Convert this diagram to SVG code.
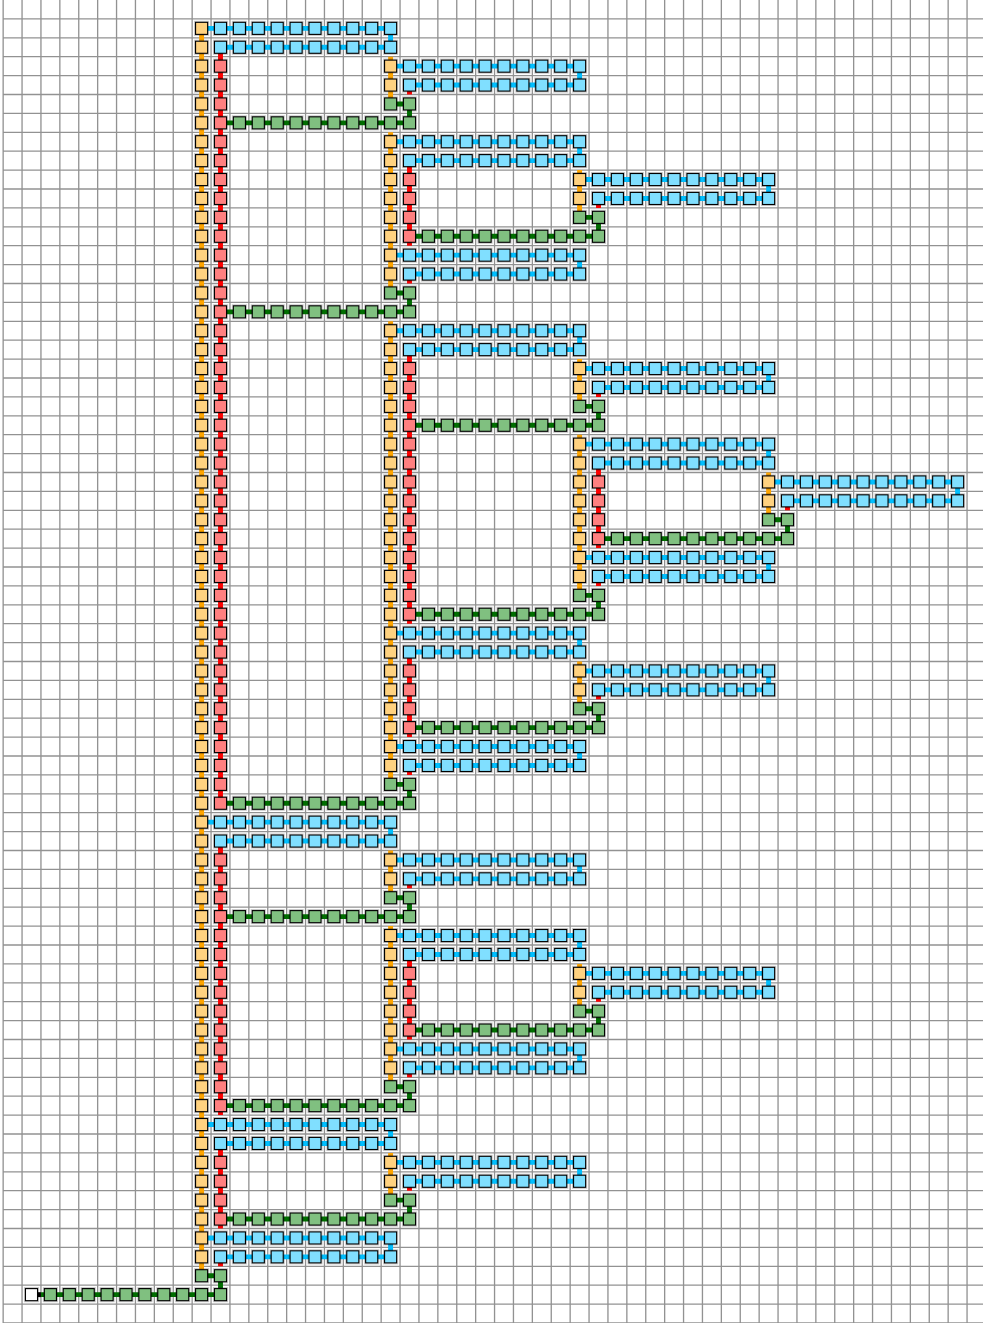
<svg xmlns="http://www.w3.org/2000/svg" width="983" height="1323" viewBox="0 0 983 1323">
<style>
.grid{fill:none;stroke:#929292;stroke-width:.07}
.e{fill:none;stroke-width:.26}
.h{fill:none;stroke:#000;stroke-opacity:.22;stroke-width:.05}
.n{stroke:#000;stroke-width:.06}
</style>
<defs>
<rect id="hl" class="h" x="-.375" y="-.375" width=".75" height=".75"/>
<g id="o"><use href="#hl"/><rect class="n" x="-.32" y="-.32" width=".64" height=".64" fill="#FFD280"/></g>
<g id="b"><use href="#hl"/><rect class="n" x="-.32" y="-.32" width=".64" height=".64" fill="#80DFFF"/></g>
<g id="r"><use href="#hl"/><rect class="n" x="-.32" y="-.32" width=".64" height=".64" fill="#FF8080"/></g>
<g id="g"><use href="#hl"/><rect class="n" x="-.32" y="-.32" width=".64" height=".64" fill="#80C080"/></g>
<g id="w"><use href="#hl"/><rect class="n" x="-.32" y="-.32" width=".64" height=".64" fill="#FFFFFF"/></g>
</defs>
<rect width="983" height="1323" fill="#fff"/>
<g transform="translate(12.6 9.45) scale(18.9)">
<path id="grid" class="grid" d="M-.5 -1V70M.5 -1V70M1.5 -1V70M2.5 -1V70M3.5 -1V70M4.5 -1V70M5.5 -1V70M6.5 -1V70M7.5 -1V70M8.5 -1V70M9.5 -1V70M10.5 -1V70M11.5 -1V70M12.5 -1V70M13.5 -1V70M14.5 -1V70M15.5 -1V70M16.5 -1V70M17.5 -1V70M18.5 -1V70M19.5 -1V70M20.5 -1V70M21.5 -1V70M22.5 -1V70M23.5 -1V70M24.5 -1V70M25.5 -1V70M26.5 -1V70M27.5 -1V70M28.5 -1V70M29.5 -1V70M30.5 -1V70M31.5 -1V70M32.5 -1V70M33.5 -1V70M34.5 -1V70M35.5 -1V70M36.5 -1V70M37.5 -1V70M38.5 -1V70M39.5 -1V70M40.5 -1V70M41.5 -1V70M42.5 -1V70M43.5 -1V70M44.5 -1V70M45.5 -1V70M46.5 -1V70M47.5 -1V70M48.5 -1V70M49.5 -1V70M50.5 -1V70M-.5 .5H52M-.5 1.5H52M-.5 2.5H52M-.5 3.5H52M-.5 4.5H52M-.5 5.5H52M-.5 6.5H52M-.5 7.5H52M-.5 8.5H52M-.5 9.5H52M-.5 10.5H52M-.5 11.5H52M-.5 12.5H52M-.5 13.5H52M-.5 14.5H52M-.5 15.5H52M-.5 16.5H52M-.5 17.5H52M-.5 18.5H52M-.5 19.5H52M-.5 20.5H52M-.5 21.5H52M-.5 22.5H52M-.5 23.5H52M-.5 24.5H52M-.5 25.5H52M-.5 26.5H52M-.5 27.5H52M-.5 28.5H52M-.5 29.5H52M-.5 30.5H52M-.5 31.5H52M-.5 32.5H52M-.5 33.5H52M-.5 34.5H52M-.5 35.5H52M-.5 36.5H52M-.5 37.5H52M-.5 38.5H52M-.5 39.5H52M-.5 40.5H52M-.5 41.5H52M-.5 42.5H52M-.5 43.5H52M-.5 44.5H52M-.5 45.5H52M-.5 46.5H52M-.5 47.5H52M-.5 48.5H52M-.5 49.5H52M-.5 50.5H52M-.5 51.5H52M-.5 52.5H52M-.5 53.5H52M-.5 54.5H52M-.5 55.5H52M-.5 56.5H52M-.5 57.5H52M-.5 58.5H52M-.5 59.5H52M-.5 60.5H52M-.5 61.5H52M-.5 62.5H52M-.5 63.5H52M-.5 64.5H52M-.5 65.5H52M-.5 66.5H52M-.5 67.5H52M-.5 68.5H52M-.5 69.5H52"/>
<g id="connectors">
<path class="e" stroke="#00BFFF" d="M10 1H20V2H11M10 43H20V44H11M10 59H20V60H11M10 65H20V66H11M20 3H30V4H21M20 7H30V8H21M20 13H30V14H21M20 17H30V18H21M20 33H30V34H21M20 39H30V40H21M20 45H30V46H21M20 49H30V50H21M20 55H30V56H21M20 61H30V62H21M30 9H40V10H31M30 19H40V20H31M30 23H40V24H31M30 29H40V30H31M30 35H40V36H31M30 51H40V52H31M40 25H50V26H41"/>
<path class="e" stroke="#006E00" d="M11 6H21V5H20M11 16H21V15H20M11 42H21V41H20M11 48H21V47H20M11 58H21V57H20M11 64H21V63H20M21 12H31V11H30M21 22H31V21H30M21 32H31V31H30M21 38H31V37H30M21 54H31V53H30M31 28H41V27H40M1.5 68H11V67H10"/>
<path class="e" stroke="#000" d="M1 68H1.5"/>
<path class="e" stroke="#FFA500" d="M10 1V67M20 2.5V5M20 6.5V15M20 16.5V41M20 44.5V47M20 48.5V57M20 60.5V63M30 8.5V11M30 18.5V21M30 22.5V31M30 34.5V37M30 50.5V53M40 24.5V27"/>
<path class="e" stroke="#FF0000" d="M11 2V42M11 44V58.5M11 60V64.5M11 66V66.5M21 4V4.5M21 8V12.5M21 14V14.5M21 18V32.5M21 34V38.5M21 40V40.5M21 46V46.5M21 50V54.5M21 56V56.5M21 62V62.5M31 10V10.5M31 20V20.5M31 24V28.5M31 30V30.5M31 36V36.5M31 52V52.5M41 26V26.5"/>
</g>
<g id="nodes">
<g id="n10-1"><use href="#o" x="10" y="1"/></g><g id="n11-1"><use href="#b" x="11" y="1"/></g><g id="n12-1"><use href="#b" x="12" y="1"/></g><g id="n13-1"><use href="#b" x="13" y="1"/></g><g id="n14-1"><use href="#b" x="14" y="1"/></g><g id="n15-1"><use href="#b" x="15" y="1"/></g><g id="n16-1"><use href="#b" x="16" y="1"/></g><g id="n17-1"><use href="#b" x="17" y="1"/></g><g id="n18-1"><use href="#b" x="18" y="1"/></g><g id="n19-1"><use href="#b" x="19" y="1"/></g><g id="n20-1"><use href="#b" x="20" y="1"/></g>
<g id="n10-2"><use href="#o" x="10" y="2"/></g><g id="n11-2"><use href="#b" x="11" y="2"/></g><g id="n12-2"><use href="#b" x="12" y="2"/></g><g id="n13-2"><use href="#b" x="13" y="2"/></g><g id="n14-2"><use href="#b" x="14" y="2"/></g><g id="n15-2"><use href="#b" x="15" y="2"/></g><g id="n16-2"><use href="#b" x="16" y="2"/></g><g id="n17-2"><use href="#b" x="17" y="2"/></g><g id="n18-2"><use href="#b" x="18" y="2"/></g><g id="n19-2"><use href="#b" x="19" y="2"/></g><g id="n20-2"><use href="#b" x="20" y="2"/></g>
<g id="n10-3"><use href="#o" x="10" y="3"/></g><g id="n11-3"><use href="#r" x="11" y="3"/></g><g id="n20-3"><use href="#o" x="20" y="3"/></g><g id="n21-3"><use href="#b" x="21" y="3"/></g><g id="n22-3"><use href="#b" x="22" y="3"/></g><g id="n23-3"><use href="#b" x="23" y="3"/></g><g id="n24-3"><use href="#b" x="24" y="3"/></g><g id="n25-3"><use href="#b" x="25" y="3"/></g><g id="n26-3"><use href="#b" x="26" y="3"/></g><g id="n27-3"><use href="#b" x="27" y="3"/></g><g id="n28-3"><use href="#b" x="28" y="3"/></g><g id="n29-3"><use href="#b" x="29" y="3"/></g><g id="n30-3"><use href="#b" x="30" y="3"/></g>
<g id="n10-4"><use href="#o" x="10" y="4"/></g><g id="n11-4"><use href="#r" x="11" y="4"/></g><g id="n20-4"><use href="#o" x="20" y="4"/></g><g id="n21-4"><use href="#b" x="21" y="4"/></g><g id="n22-4"><use href="#b" x="22" y="4"/></g><g id="n23-4"><use href="#b" x="23" y="4"/></g><g id="n24-4"><use href="#b" x="24" y="4"/></g><g id="n25-4"><use href="#b" x="25" y="4"/></g><g id="n26-4"><use href="#b" x="26" y="4"/></g><g id="n27-4"><use href="#b" x="27" y="4"/></g><g id="n28-4"><use href="#b" x="28" y="4"/></g><g id="n29-4"><use href="#b" x="29" y="4"/></g><g id="n30-4"><use href="#b" x="30" y="4"/></g>
<g id="n10-5"><use href="#o" x="10" y="5"/></g><g id="n11-5"><use href="#r" x="11" y="5"/></g><g id="n20-5"><use href="#g" x="20" y="5"/></g><g id="n21-5"><use href="#g" x="21" y="5"/></g>
<g id="n10-6"><use href="#o" x="10" y="6"/></g><g id="n11-6"><use href="#r" x="11" y="6"/></g><g id="n12-6"><use href="#g" x="12" y="6"/></g><g id="n13-6"><use href="#g" x="13" y="6"/></g><g id="n14-6"><use href="#g" x="14" y="6"/></g><g id="n15-6"><use href="#g" x="15" y="6"/></g><g id="n16-6"><use href="#g" x="16" y="6"/></g><g id="n17-6"><use href="#g" x="17" y="6"/></g><g id="n18-6"><use href="#g" x="18" y="6"/></g><g id="n19-6"><use href="#g" x="19" y="6"/></g><g id="n20-6"><use href="#g" x="20" y="6"/></g><g id="n21-6"><use href="#g" x="21" y="6"/></g>
<g id="n10-7"><use href="#o" x="10" y="7"/></g><g id="n11-7"><use href="#r" x="11" y="7"/></g><g id="n20-7"><use href="#o" x="20" y="7"/></g><g id="n21-7"><use href="#b" x="21" y="7"/></g><g id="n22-7"><use href="#b" x="22" y="7"/></g><g id="n23-7"><use href="#b" x="23" y="7"/></g><g id="n24-7"><use href="#b" x="24" y="7"/></g><g id="n25-7"><use href="#b" x="25" y="7"/></g><g id="n26-7"><use href="#b" x="26" y="7"/></g><g id="n27-7"><use href="#b" x="27" y="7"/></g><g id="n28-7"><use href="#b" x="28" y="7"/></g><g id="n29-7"><use href="#b" x="29" y="7"/></g><g id="n30-7"><use href="#b" x="30" y="7"/></g>
<g id="n10-8"><use href="#o" x="10" y="8"/></g><g id="n11-8"><use href="#r" x="11" y="8"/></g><g id="n20-8"><use href="#o" x="20" y="8"/></g><g id="n21-8"><use href="#b" x="21" y="8"/></g><g id="n22-8"><use href="#b" x="22" y="8"/></g><g id="n23-8"><use href="#b" x="23" y="8"/></g><g id="n24-8"><use href="#b" x="24" y="8"/></g><g id="n25-8"><use href="#b" x="25" y="8"/></g><g id="n26-8"><use href="#b" x="26" y="8"/></g><g id="n27-8"><use href="#b" x="27" y="8"/></g><g id="n28-8"><use href="#b" x="28" y="8"/></g><g id="n29-8"><use href="#b" x="29" y="8"/></g><g id="n30-8"><use href="#b" x="30" y="8"/></g>
<g id="n10-9"><use href="#o" x="10" y="9"/></g><g id="n11-9"><use href="#r" x="11" y="9"/></g><g id="n20-9"><use href="#o" x="20" y="9"/></g><g id="n21-9"><use href="#r" x="21" y="9"/></g><g id="n30-9"><use href="#o" x="30" y="9"/></g><g id="n31-9"><use href="#b" x="31" y="9"/></g><g id="n32-9"><use href="#b" x="32" y="9"/></g><g id="n33-9"><use href="#b" x="33" y="9"/></g><g id="n34-9"><use href="#b" x="34" y="9"/></g><g id="n35-9"><use href="#b" x="35" y="9"/></g><g id="n36-9"><use href="#b" x="36" y="9"/></g><g id="n37-9"><use href="#b" x="37" y="9"/></g><g id="n38-9"><use href="#b" x="38" y="9"/></g><g id="n39-9"><use href="#b" x="39" y="9"/></g><g id="n40-9"><use href="#b" x="40" y="9"/></g>
<g id="n10-10"><use href="#o" x="10" y="10"/></g><g id="n11-10"><use href="#r" x="11" y="10"/></g><g id="n20-10"><use href="#o" x="20" y="10"/></g><g id="n21-10"><use href="#r" x="21" y="10"/></g><g id="n30-10"><use href="#o" x="30" y="10"/></g><g id="n31-10"><use href="#b" x="31" y="10"/></g><g id="n32-10"><use href="#b" x="32" y="10"/></g><g id="n33-10"><use href="#b" x="33" y="10"/></g><g id="n34-10"><use href="#b" x="34" y="10"/></g><g id="n35-10"><use href="#b" x="35" y="10"/></g><g id="n36-10"><use href="#b" x="36" y="10"/></g><g id="n37-10"><use href="#b" x="37" y="10"/></g><g id="n38-10"><use href="#b" x="38" y="10"/></g><g id="n39-10"><use href="#b" x="39" y="10"/></g><g id="n40-10"><use href="#b" x="40" y="10"/></g>
<g id="n10-11"><use href="#o" x="10" y="11"/></g><g id="n11-11"><use href="#r" x="11" y="11"/></g><g id="n20-11"><use href="#o" x="20" y="11"/></g><g id="n21-11"><use href="#r" x="21" y="11"/></g><g id="n30-11"><use href="#g" x="30" y="11"/></g><g id="n31-11"><use href="#g" x="31" y="11"/></g>
<g id="n10-12"><use href="#o" x="10" y="12"/></g><g id="n11-12"><use href="#r" x="11" y="12"/></g><g id="n20-12"><use href="#o" x="20" y="12"/></g><g id="n21-12"><use href="#r" x="21" y="12"/></g><g id="n22-12"><use href="#g" x="22" y="12"/></g><g id="n23-12"><use href="#g" x="23" y="12"/></g><g id="n24-12"><use href="#g" x="24" y="12"/></g><g id="n25-12"><use href="#g" x="25" y="12"/></g><g id="n26-12"><use href="#g" x="26" y="12"/></g><g id="n27-12"><use href="#g" x="27" y="12"/></g><g id="n28-12"><use href="#g" x="28" y="12"/></g><g id="n29-12"><use href="#g" x="29" y="12"/></g><g id="n30-12"><use href="#g" x="30" y="12"/></g><g id="n31-12"><use href="#g" x="31" y="12"/></g>
<g id="n10-13"><use href="#o" x="10" y="13"/></g><g id="n11-13"><use href="#r" x="11" y="13"/></g><g id="n20-13"><use href="#o" x="20" y="13"/></g><g id="n21-13"><use href="#b" x="21" y="13"/></g><g id="n22-13"><use href="#b" x="22" y="13"/></g><g id="n23-13"><use href="#b" x="23" y="13"/></g><g id="n24-13"><use href="#b" x="24" y="13"/></g><g id="n25-13"><use href="#b" x="25" y="13"/></g><g id="n26-13"><use href="#b" x="26" y="13"/></g><g id="n27-13"><use href="#b" x="27" y="13"/></g><g id="n28-13"><use href="#b" x="28" y="13"/></g><g id="n29-13"><use href="#b" x="29" y="13"/></g><g id="n30-13"><use href="#b" x="30" y="13"/></g>
<g id="n10-14"><use href="#o" x="10" y="14"/></g><g id="n11-14"><use href="#r" x="11" y="14"/></g><g id="n20-14"><use href="#o" x="20" y="14"/></g><g id="n21-14"><use href="#b" x="21" y="14"/></g><g id="n22-14"><use href="#b" x="22" y="14"/></g><g id="n23-14"><use href="#b" x="23" y="14"/></g><g id="n24-14"><use href="#b" x="24" y="14"/></g><g id="n25-14"><use href="#b" x="25" y="14"/></g><g id="n26-14"><use href="#b" x="26" y="14"/></g><g id="n27-14"><use href="#b" x="27" y="14"/></g><g id="n28-14"><use href="#b" x="28" y="14"/></g><g id="n29-14"><use href="#b" x="29" y="14"/></g><g id="n30-14"><use href="#b" x="30" y="14"/></g>
<g id="n10-15"><use href="#o" x="10" y="15"/></g><g id="n11-15"><use href="#r" x="11" y="15"/></g><g id="n20-15"><use href="#g" x="20" y="15"/></g><g id="n21-15"><use href="#g" x="21" y="15"/></g>
<g id="n10-16"><use href="#o" x="10" y="16"/></g><g id="n11-16"><use href="#r" x="11" y="16"/></g><g id="n12-16"><use href="#g" x="12" y="16"/></g><g id="n13-16"><use href="#g" x="13" y="16"/></g><g id="n14-16"><use href="#g" x="14" y="16"/></g><g id="n15-16"><use href="#g" x="15" y="16"/></g><g id="n16-16"><use href="#g" x="16" y="16"/></g><g id="n17-16"><use href="#g" x="17" y="16"/></g><g id="n18-16"><use href="#g" x="18" y="16"/></g><g id="n19-16"><use href="#g" x="19" y="16"/></g><g id="n20-16"><use href="#g" x="20" y="16"/></g><g id="n21-16"><use href="#g" x="21" y="16"/></g>
<g id="n10-17"><use href="#o" x="10" y="17"/></g><g id="n11-17"><use href="#r" x="11" y="17"/></g><g id="n20-17"><use href="#o" x="20" y="17"/></g><g id="n21-17"><use href="#b" x="21" y="17"/></g><g id="n22-17"><use href="#b" x="22" y="17"/></g><g id="n23-17"><use href="#b" x="23" y="17"/></g><g id="n24-17"><use href="#b" x="24" y="17"/></g><g id="n25-17"><use href="#b" x="25" y="17"/></g><g id="n26-17"><use href="#b" x="26" y="17"/></g><g id="n27-17"><use href="#b" x="27" y="17"/></g><g id="n28-17"><use href="#b" x="28" y="17"/></g><g id="n29-17"><use href="#b" x="29" y="17"/></g><g id="n30-17"><use href="#b" x="30" y="17"/></g>
<g id="n10-18"><use href="#o" x="10" y="18"/></g><g id="n11-18"><use href="#r" x="11" y="18"/></g><g id="n20-18"><use href="#o" x="20" y="18"/></g><g id="n21-18"><use href="#b" x="21" y="18"/></g><g id="n22-18"><use href="#b" x="22" y="18"/></g><g id="n23-18"><use href="#b" x="23" y="18"/></g><g id="n24-18"><use href="#b" x="24" y="18"/></g><g id="n25-18"><use href="#b" x="25" y="18"/></g><g id="n26-18"><use href="#b" x="26" y="18"/></g><g id="n27-18"><use href="#b" x="27" y="18"/></g><g id="n28-18"><use href="#b" x="28" y="18"/></g><g id="n29-18"><use href="#b" x="29" y="18"/></g><g id="n30-18"><use href="#b" x="30" y="18"/></g>
<g id="n10-19"><use href="#o" x="10" y="19"/></g><g id="n11-19"><use href="#r" x="11" y="19"/></g><g id="n20-19"><use href="#o" x="20" y="19"/></g><g id="n21-19"><use href="#r" x="21" y="19"/></g><g id="n30-19"><use href="#o" x="30" y="19"/></g><g id="n31-19"><use href="#b" x="31" y="19"/></g><g id="n32-19"><use href="#b" x="32" y="19"/></g><g id="n33-19"><use href="#b" x="33" y="19"/></g><g id="n34-19"><use href="#b" x="34" y="19"/></g><g id="n35-19"><use href="#b" x="35" y="19"/></g><g id="n36-19"><use href="#b" x="36" y="19"/></g><g id="n37-19"><use href="#b" x="37" y="19"/></g><g id="n38-19"><use href="#b" x="38" y="19"/></g><g id="n39-19"><use href="#b" x="39" y="19"/></g><g id="n40-19"><use href="#b" x="40" y="19"/></g>
<g id="n10-20"><use href="#o" x="10" y="20"/></g><g id="n11-20"><use href="#r" x="11" y="20"/></g><g id="n20-20"><use href="#o" x="20" y="20"/></g><g id="n21-20"><use href="#r" x="21" y="20"/></g><g id="n30-20"><use href="#o" x="30" y="20"/></g><g id="n31-20"><use href="#b" x="31" y="20"/></g><g id="n32-20"><use href="#b" x="32" y="20"/></g><g id="n33-20"><use href="#b" x="33" y="20"/></g><g id="n34-20"><use href="#b" x="34" y="20"/></g><g id="n35-20"><use href="#b" x="35" y="20"/></g><g id="n36-20"><use href="#b" x="36" y="20"/></g><g id="n37-20"><use href="#b" x="37" y="20"/></g><g id="n38-20"><use href="#b" x="38" y="20"/></g><g id="n39-20"><use href="#b" x="39" y="20"/></g><g id="n40-20"><use href="#b" x="40" y="20"/></g>
<g id="n10-21"><use href="#o" x="10" y="21"/></g><g id="n11-21"><use href="#r" x="11" y="21"/></g><g id="n20-21"><use href="#o" x="20" y="21"/></g><g id="n21-21"><use href="#r" x="21" y="21"/></g><g id="n30-21"><use href="#g" x="30" y="21"/></g><g id="n31-21"><use href="#g" x="31" y="21"/></g>
<g id="n10-22"><use href="#o" x="10" y="22"/></g><g id="n11-22"><use href="#r" x="11" y="22"/></g><g id="n20-22"><use href="#o" x="20" y="22"/></g><g id="n21-22"><use href="#r" x="21" y="22"/></g><g id="n22-22"><use href="#g" x="22" y="22"/></g><g id="n23-22"><use href="#g" x="23" y="22"/></g><g id="n24-22"><use href="#g" x="24" y="22"/></g><g id="n25-22"><use href="#g" x="25" y="22"/></g><g id="n26-22"><use href="#g" x="26" y="22"/></g><g id="n27-22"><use href="#g" x="27" y="22"/></g><g id="n28-22"><use href="#g" x="28" y="22"/></g><g id="n29-22"><use href="#g" x="29" y="22"/></g><g id="n30-22"><use href="#g" x="30" y="22"/></g><g id="n31-22"><use href="#g" x="31" y="22"/></g>
<g id="n10-23"><use href="#o" x="10" y="23"/></g><g id="n11-23"><use href="#r" x="11" y="23"/></g><g id="n20-23"><use href="#o" x="20" y="23"/></g><g id="n21-23"><use href="#r" x="21" y="23"/></g><g id="n30-23"><use href="#o" x="30" y="23"/></g><g id="n31-23"><use href="#b" x="31" y="23"/></g><g id="n32-23"><use href="#b" x="32" y="23"/></g><g id="n33-23"><use href="#b" x="33" y="23"/></g><g id="n34-23"><use href="#b" x="34" y="23"/></g><g id="n35-23"><use href="#b" x="35" y="23"/></g><g id="n36-23"><use href="#b" x="36" y="23"/></g><g id="n37-23"><use href="#b" x="37" y="23"/></g><g id="n38-23"><use href="#b" x="38" y="23"/></g><g id="n39-23"><use href="#b" x="39" y="23"/></g><g id="n40-23"><use href="#b" x="40" y="23"/></g>
<g id="n10-24"><use href="#o" x="10" y="24"/></g><g id="n11-24"><use href="#r" x="11" y="24"/></g><g id="n20-24"><use href="#o" x="20" y="24"/></g><g id="n21-24"><use href="#r" x="21" y="24"/></g><g id="n30-24"><use href="#o" x="30" y="24"/></g><g id="n31-24"><use href="#b" x="31" y="24"/></g><g id="n32-24"><use href="#b" x="32" y="24"/></g><g id="n33-24"><use href="#b" x="33" y="24"/></g><g id="n34-24"><use href="#b" x="34" y="24"/></g><g id="n35-24"><use href="#b" x="35" y="24"/></g><g id="n36-24"><use href="#b" x="36" y="24"/></g><g id="n37-24"><use href="#b" x="37" y="24"/></g><g id="n38-24"><use href="#b" x="38" y="24"/></g><g id="n39-24"><use href="#b" x="39" y="24"/></g><g id="n40-24"><use href="#b" x="40" y="24"/></g>
<g id="n10-25"><use href="#o" x="10" y="25"/></g><g id="n11-25"><use href="#r" x="11" y="25"/></g><g id="n20-25"><use href="#o" x="20" y="25"/></g><g id="n21-25"><use href="#r" x="21" y="25"/></g><g id="n30-25"><use href="#o" x="30" y="25"/></g><g id="n31-25"><use href="#r" x="31" y="25"/></g><g id="n40-25"><use href="#o" x="40" y="25"/></g><g id="n41-25"><use href="#b" x="41" y="25"/></g><g id="n42-25"><use href="#b" x="42" y="25"/></g><g id="n43-25"><use href="#b" x="43" y="25"/></g><g id="n44-25"><use href="#b" x="44" y="25"/></g><g id="n45-25"><use href="#b" x="45" y="25"/></g><g id="n46-25"><use href="#b" x="46" y="25"/></g><g id="n47-25"><use href="#b" x="47" y="25"/></g><g id="n48-25"><use href="#b" x="48" y="25"/></g><g id="n49-25"><use href="#b" x="49" y="25"/></g><g id="n50-25"><use href="#b" x="50" y="25"/></g>
<g id="n10-26"><use href="#o" x="10" y="26"/></g><g id="n11-26"><use href="#r" x="11" y="26"/></g><g id="n20-26"><use href="#o" x="20" y="26"/></g><g id="n21-26"><use href="#r" x="21" y="26"/></g><g id="n30-26"><use href="#o" x="30" y="26"/></g><g id="n31-26"><use href="#r" x="31" y="26"/></g><g id="n40-26"><use href="#o" x="40" y="26"/></g><g id="n41-26"><use href="#b" x="41" y="26"/></g><g id="n42-26"><use href="#b" x="42" y="26"/></g><g id="n43-26"><use href="#b" x="43" y="26"/></g><g id="n44-26"><use href="#b" x="44" y="26"/></g><g id="n45-26"><use href="#b" x="45" y="26"/></g><g id="n46-26"><use href="#b" x="46" y="26"/></g><g id="n47-26"><use href="#b" x="47" y="26"/></g><g id="n48-26"><use href="#b" x="48" y="26"/></g><g id="n49-26"><use href="#b" x="49" y="26"/></g><g id="n50-26"><use href="#b" x="50" y="26"/></g>
<g id="n10-27"><use href="#o" x="10" y="27"/></g><g id="n11-27"><use href="#r" x="11" y="27"/></g><g id="n20-27"><use href="#o" x="20" y="27"/></g><g id="n21-27"><use href="#r" x="21" y="27"/></g><g id="n30-27"><use href="#o" x="30" y="27"/></g><g id="n31-27"><use href="#r" x="31" y="27"/></g><g id="n40-27"><use href="#g" x="40" y="27"/></g><g id="n41-27"><use href="#g" x="41" y="27"/></g>
<g id="n10-28"><use href="#o" x="10" y="28"/></g><g id="n11-28"><use href="#r" x="11" y="28"/></g><g id="n20-28"><use href="#o" x="20" y="28"/></g><g id="n21-28"><use href="#r" x="21" y="28"/></g><g id="n30-28"><use href="#o" x="30" y="28"/></g><g id="n31-28"><use href="#r" x="31" y="28"/></g><g id="n32-28"><use href="#g" x="32" y="28"/></g><g id="n33-28"><use href="#g" x="33" y="28"/></g><g id="n34-28"><use href="#g" x="34" y="28"/></g><g id="n35-28"><use href="#g" x="35" y="28"/></g><g id="n36-28"><use href="#g" x="36" y="28"/></g><g id="n37-28"><use href="#g" x="37" y="28"/></g><g id="n38-28"><use href="#g" x="38" y="28"/></g><g id="n39-28"><use href="#g" x="39" y="28"/></g><g id="n40-28"><use href="#g" x="40" y="28"/></g><g id="n41-28"><use href="#g" x="41" y="28"/></g>
<g id="n10-29"><use href="#o" x="10" y="29"/></g><g id="n11-29"><use href="#r" x="11" y="29"/></g><g id="n20-29"><use href="#o" x="20" y="29"/></g><g id="n21-29"><use href="#r" x="21" y="29"/></g><g id="n30-29"><use href="#o" x="30" y="29"/></g><g id="n31-29"><use href="#b" x="31" y="29"/></g><g id="n32-29"><use href="#b" x="32" y="29"/></g><g id="n33-29"><use href="#b" x="33" y="29"/></g><g id="n34-29"><use href="#b" x="34" y="29"/></g><g id="n35-29"><use href="#b" x="35" y="29"/></g><g id="n36-29"><use href="#b" x="36" y="29"/></g><g id="n37-29"><use href="#b" x="37" y="29"/></g><g id="n38-29"><use href="#b" x="38" y="29"/></g><g id="n39-29"><use href="#b" x="39" y="29"/></g><g id="n40-29"><use href="#b" x="40" y="29"/></g>
<g id="n10-30"><use href="#o" x="10" y="30"/></g><g id="n11-30"><use href="#r" x="11" y="30"/></g><g id="n20-30"><use href="#o" x="20" y="30"/></g><g id="n21-30"><use href="#r" x="21" y="30"/></g><g id="n30-30"><use href="#o" x="30" y="30"/></g><g id="n31-30"><use href="#b" x="31" y="30"/></g><g id="n32-30"><use href="#b" x="32" y="30"/></g><g id="n33-30"><use href="#b" x="33" y="30"/></g><g id="n34-30"><use href="#b" x="34" y="30"/></g><g id="n35-30"><use href="#b" x="35" y="30"/></g><g id="n36-30"><use href="#b" x="36" y="30"/></g><g id="n37-30"><use href="#b" x="37" y="30"/></g><g id="n38-30"><use href="#b" x="38" y="30"/></g><g id="n39-30"><use href="#b" x="39" y="30"/></g><g id="n40-30"><use href="#b" x="40" y="30"/></g>
<g id="n10-31"><use href="#o" x="10" y="31"/></g><g id="n11-31"><use href="#r" x="11" y="31"/></g><g id="n20-31"><use href="#o" x="20" y="31"/></g><g id="n21-31"><use href="#r" x="21" y="31"/></g><g id="n30-31"><use href="#g" x="30" y="31"/></g><g id="n31-31"><use href="#g" x="31" y="31"/></g>
<g id="n10-32"><use href="#o" x="10" y="32"/></g><g id="n11-32"><use href="#r" x="11" y="32"/></g><g id="n20-32"><use href="#o" x="20" y="32"/></g><g id="n21-32"><use href="#r" x="21" y="32"/></g><g id="n22-32"><use href="#g" x="22" y="32"/></g><g id="n23-32"><use href="#g" x="23" y="32"/></g><g id="n24-32"><use href="#g" x="24" y="32"/></g><g id="n25-32"><use href="#g" x="25" y="32"/></g><g id="n26-32"><use href="#g" x="26" y="32"/></g><g id="n27-32"><use href="#g" x="27" y="32"/></g><g id="n28-32"><use href="#g" x="28" y="32"/></g><g id="n29-32"><use href="#g" x="29" y="32"/></g><g id="n30-32"><use href="#g" x="30" y="32"/></g><g id="n31-32"><use href="#g" x="31" y="32"/></g>
<g id="n10-33"><use href="#o" x="10" y="33"/></g><g id="n11-33"><use href="#r" x="11" y="33"/></g><g id="n20-33"><use href="#o" x="20" y="33"/></g><g id="n21-33"><use href="#b" x="21" y="33"/></g><g id="n22-33"><use href="#b" x="22" y="33"/></g><g id="n23-33"><use href="#b" x="23" y="33"/></g><g id="n24-33"><use href="#b" x="24" y="33"/></g><g id="n25-33"><use href="#b" x="25" y="33"/></g><g id="n26-33"><use href="#b" x="26" y="33"/></g><g id="n27-33"><use href="#b" x="27" y="33"/></g><g id="n28-33"><use href="#b" x="28" y="33"/></g><g id="n29-33"><use href="#b" x="29" y="33"/></g><g id="n30-33"><use href="#b" x="30" y="33"/></g>
<g id="n10-34"><use href="#o" x="10" y="34"/></g><g id="n11-34"><use href="#r" x="11" y="34"/></g><g id="n20-34"><use href="#o" x="20" y="34"/></g><g id="n21-34"><use href="#b" x="21" y="34"/></g><g id="n22-34"><use href="#b" x="22" y="34"/></g><g id="n23-34"><use href="#b" x="23" y="34"/></g><g id="n24-34"><use href="#b" x="24" y="34"/></g><g id="n25-34"><use href="#b" x="25" y="34"/></g><g id="n26-34"><use href="#b" x="26" y="34"/></g><g id="n27-34"><use href="#b" x="27" y="34"/></g><g id="n28-34"><use href="#b" x="28" y="34"/></g><g id="n29-34"><use href="#b" x="29" y="34"/></g><g id="n30-34"><use href="#b" x="30" y="34"/></g>
<g id="n10-35"><use href="#o" x="10" y="35"/></g><g id="n11-35"><use href="#r" x="11" y="35"/></g><g id="n20-35"><use href="#o" x="20" y="35"/></g><g id="n21-35"><use href="#r" x="21" y="35"/></g><g id="n30-35"><use href="#o" x="30" y="35"/></g><g id="n31-35"><use href="#b" x="31" y="35"/></g><g id="n32-35"><use href="#b" x="32" y="35"/></g><g id="n33-35"><use href="#b" x="33" y="35"/></g><g id="n34-35"><use href="#b" x="34" y="35"/></g><g id="n35-35"><use href="#b" x="35" y="35"/></g><g id="n36-35"><use href="#b" x="36" y="35"/></g><g id="n37-35"><use href="#b" x="37" y="35"/></g><g id="n38-35"><use href="#b" x="38" y="35"/></g><g id="n39-35"><use href="#b" x="39" y="35"/></g><g id="n40-35"><use href="#b" x="40" y="35"/></g>
<g id="n10-36"><use href="#o" x="10" y="36"/></g><g id="n11-36"><use href="#r" x="11" y="36"/></g><g id="n20-36"><use href="#o" x="20" y="36"/></g><g id="n21-36"><use href="#r" x="21" y="36"/></g><g id="n30-36"><use href="#o" x="30" y="36"/></g><g id="n31-36"><use href="#b" x="31" y="36"/></g><g id="n32-36"><use href="#b" x="32" y="36"/></g><g id="n33-36"><use href="#b" x="33" y="36"/></g><g id="n34-36"><use href="#b" x="34" y="36"/></g><g id="n35-36"><use href="#b" x="35" y="36"/></g><g id="n36-36"><use href="#b" x="36" y="36"/></g><g id="n37-36"><use href="#b" x="37" y="36"/></g><g id="n38-36"><use href="#b" x="38" y="36"/></g><g id="n39-36"><use href="#b" x="39" y="36"/></g><g id="n40-36"><use href="#b" x="40" y="36"/></g>
<g id="n10-37"><use href="#o" x="10" y="37"/></g><g id="n11-37"><use href="#r" x="11" y="37"/></g><g id="n20-37"><use href="#o" x="20" y="37"/></g><g id="n21-37"><use href="#r" x="21" y="37"/></g><g id="n30-37"><use href="#g" x="30" y="37"/></g><g id="n31-37"><use href="#g" x="31" y="37"/></g>
<g id="n10-38"><use href="#o" x="10" y="38"/></g><g id="n11-38"><use href="#r" x="11" y="38"/></g><g id="n20-38"><use href="#o" x="20" y="38"/></g><g id="n21-38"><use href="#r" x="21" y="38"/></g><g id="n22-38"><use href="#g" x="22" y="38"/></g><g id="n23-38"><use href="#g" x="23" y="38"/></g><g id="n24-38"><use href="#g" x="24" y="38"/></g><g id="n25-38"><use href="#g" x="25" y="38"/></g><g id="n26-38"><use href="#g" x="26" y="38"/></g><g id="n27-38"><use href="#g" x="27" y="38"/></g><g id="n28-38"><use href="#g" x="28" y="38"/></g><g id="n29-38"><use href="#g" x="29" y="38"/></g><g id="n30-38"><use href="#g" x="30" y="38"/></g><g id="n31-38"><use href="#g" x="31" y="38"/></g>
<g id="n10-39"><use href="#o" x="10" y="39"/></g><g id="n11-39"><use href="#r" x="11" y="39"/></g><g id="n20-39"><use href="#o" x="20" y="39"/></g><g id="n21-39"><use href="#b" x="21" y="39"/></g><g id="n22-39"><use href="#b" x="22" y="39"/></g><g id="n23-39"><use href="#b" x="23" y="39"/></g><g id="n24-39"><use href="#b" x="24" y="39"/></g><g id="n25-39"><use href="#b" x="25" y="39"/></g><g id="n26-39"><use href="#b" x="26" y="39"/></g><g id="n27-39"><use href="#b" x="27" y="39"/></g><g id="n28-39"><use href="#b" x="28" y="39"/></g><g id="n29-39"><use href="#b" x="29" y="39"/></g><g id="n30-39"><use href="#b" x="30" y="39"/></g>
<g id="n10-40"><use href="#o" x="10" y="40"/></g><g id="n11-40"><use href="#r" x="11" y="40"/></g><g id="n20-40"><use href="#o" x="20" y="40"/></g><g id="n21-40"><use href="#b" x="21" y="40"/></g><g id="n22-40"><use href="#b" x="22" y="40"/></g><g id="n23-40"><use href="#b" x="23" y="40"/></g><g id="n24-40"><use href="#b" x="24" y="40"/></g><g id="n25-40"><use href="#b" x="25" y="40"/></g><g id="n26-40"><use href="#b" x="26" y="40"/></g><g id="n27-40"><use href="#b" x="27" y="40"/></g><g id="n28-40"><use href="#b" x="28" y="40"/></g><g id="n29-40"><use href="#b" x="29" y="40"/></g><g id="n30-40"><use href="#b" x="30" y="40"/></g>
<g id="n10-41"><use href="#o" x="10" y="41"/></g><g id="n11-41"><use href="#r" x="11" y="41"/></g><g id="n20-41"><use href="#g" x="20" y="41"/></g><g id="n21-41"><use href="#g" x="21" y="41"/></g>
<g id="n10-42"><use href="#o" x="10" y="42"/></g><g id="n11-42"><use href="#r" x="11" y="42"/></g><g id="n12-42"><use href="#g" x="12" y="42"/></g><g id="n13-42"><use href="#g" x="13" y="42"/></g><g id="n14-42"><use href="#g" x="14" y="42"/></g><g id="n15-42"><use href="#g" x="15" y="42"/></g><g id="n16-42"><use href="#g" x="16" y="42"/></g><g id="n17-42"><use href="#g" x="17" y="42"/></g><g id="n18-42"><use href="#g" x="18" y="42"/></g><g id="n19-42"><use href="#g" x="19" y="42"/></g><g id="n20-42"><use href="#g" x="20" y="42"/></g><g id="n21-42"><use href="#g" x="21" y="42"/></g>
<g id="n10-43"><use href="#o" x="10" y="43"/></g><g id="n11-43"><use href="#b" x="11" y="43"/></g><g id="n12-43"><use href="#b" x="12" y="43"/></g><g id="n13-43"><use href="#b" x="13" y="43"/></g><g id="n14-43"><use href="#b" x="14" y="43"/></g><g id="n15-43"><use href="#b" x="15" y="43"/></g><g id="n16-43"><use href="#b" x="16" y="43"/></g><g id="n17-43"><use href="#b" x="17" y="43"/></g><g id="n18-43"><use href="#b" x="18" y="43"/></g><g id="n19-43"><use href="#b" x="19" y="43"/></g><g id="n20-43"><use href="#b" x="20" y="43"/></g>
<g id="n10-44"><use href="#o" x="10" y="44"/></g><g id="n11-44"><use href="#b" x="11" y="44"/></g><g id="n12-44"><use href="#b" x="12" y="44"/></g><g id="n13-44"><use href="#b" x="13" y="44"/></g><g id="n14-44"><use href="#b" x="14" y="44"/></g><g id="n15-44"><use href="#b" x="15" y="44"/></g><g id="n16-44"><use href="#b" x="16" y="44"/></g><g id="n17-44"><use href="#b" x="17" y="44"/></g><g id="n18-44"><use href="#b" x="18" y="44"/></g><g id="n19-44"><use href="#b" x="19" y="44"/></g><g id="n20-44"><use href="#b" x="20" y="44"/></g>
<g id="n10-45"><use href="#o" x="10" y="45"/></g><g id="n11-45"><use href="#r" x="11" y="45"/></g><g id="n20-45"><use href="#o" x="20" y="45"/></g><g id="n21-45"><use href="#b" x="21" y="45"/></g><g id="n22-45"><use href="#b" x="22" y="45"/></g><g id="n23-45"><use href="#b" x="23" y="45"/></g><g id="n24-45"><use href="#b" x="24" y="45"/></g><g id="n25-45"><use href="#b" x="25" y="45"/></g><g id="n26-45"><use href="#b" x="26" y="45"/></g><g id="n27-45"><use href="#b" x="27" y="45"/></g><g id="n28-45"><use href="#b" x="28" y="45"/></g><g id="n29-45"><use href="#b" x="29" y="45"/></g><g id="n30-45"><use href="#b" x="30" y="45"/></g>
<g id="n10-46"><use href="#o" x="10" y="46"/></g><g id="n11-46"><use href="#r" x="11" y="46"/></g><g id="n20-46"><use href="#o" x="20" y="46"/></g><g id="n21-46"><use href="#b" x="21" y="46"/></g><g id="n22-46"><use href="#b" x="22" y="46"/></g><g id="n23-46"><use href="#b" x="23" y="46"/></g><g id="n24-46"><use href="#b" x="24" y="46"/></g><g id="n25-46"><use href="#b" x="25" y="46"/></g><g id="n26-46"><use href="#b" x="26" y="46"/></g><g id="n27-46"><use href="#b" x="27" y="46"/></g><g id="n28-46"><use href="#b" x="28" y="46"/></g><g id="n29-46"><use href="#b" x="29" y="46"/></g><g id="n30-46"><use href="#b" x="30" y="46"/></g>
<g id="n10-47"><use href="#o" x="10" y="47"/></g><g id="n11-47"><use href="#r" x="11" y="47"/></g><g id="n20-47"><use href="#g" x="20" y="47"/></g><g id="n21-47"><use href="#g" x="21" y="47"/></g>
<g id="n10-48"><use href="#o" x="10" y="48"/></g><g id="n11-48"><use href="#r" x="11" y="48"/></g><g id="n12-48"><use href="#g" x="12" y="48"/></g><g id="n13-48"><use href="#g" x="13" y="48"/></g><g id="n14-48"><use href="#g" x="14" y="48"/></g><g id="n15-48"><use href="#g" x="15" y="48"/></g><g id="n16-48"><use href="#g" x="16" y="48"/></g><g id="n17-48"><use href="#g" x="17" y="48"/></g><g id="n18-48"><use href="#g" x="18" y="48"/></g><g id="n19-48"><use href="#g" x="19" y="48"/></g><g id="n20-48"><use href="#g" x="20" y="48"/></g><g id="n21-48"><use href="#g" x="21" y="48"/></g>
<g id="n10-49"><use href="#o" x="10" y="49"/></g><g id="n11-49"><use href="#r" x="11" y="49"/></g><g id="n20-49"><use href="#o" x="20" y="49"/></g><g id="n21-49"><use href="#b" x="21" y="49"/></g><g id="n22-49"><use href="#b" x="22" y="49"/></g><g id="n23-49"><use href="#b" x="23" y="49"/></g><g id="n24-49"><use href="#b" x="24" y="49"/></g><g id="n25-49"><use href="#b" x="25" y="49"/></g><g id="n26-49"><use href="#b" x="26" y="49"/></g><g id="n27-49"><use href="#b" x="27" y="49"/></g><g id="n28-49"><use href="#b" x="28" y="49"/></g><g id="n29-49"><use href="#b" x="29" y="49"/></g><g id="n30-49"><use href="#b" x="30" y="49"/></g>
<g id="n10-50"><use href="#o" x="10" y="50"/></g><g id="n11-50"><use href="#r" x="11" y="50"/></g><g id="n20-50"><use href="#o" x="20" y="50"/></g><g id="n21-50"><use href="#b" x="21" y="50"/></g><g id="n22-50"><use href="#b" x="22" y="50"/></g><g id="n23-50"><use href="#b" x="23" y="50"/></g><g id="n24-50"><use href="#b" x="24" y="50"/></g><g id="n25-50"><use href="#b" x="25" y="50"/></g><g id="n26-50"><use href="#b" x="26" y="50"/></g><g id="n27-50"><use href="#b" x="27" y="50"/></g><g id="n28-50"><use href="#b" x="28" y="50"/></g><g id="n29-50"><use href="#b" x="29" y="50"/></g><g id="n30-50"><use href="#b" x="30" y="50"/></g>
<g id="n10-51"><use href="#o" x="10" y="51"/></g><g id="n11-51"><use href="#r" x="11" y="51"/></g><g id="n20-51"><use href="#o" x="20" y="51"/></g><g id="n21-51"><use href="#r" x="21" y="51"/></g><g id="n30-51"><use href="#o" x="30" y="51"/></g><g id="n31-51"><use href="#b" x="31" y="51"/></g><g id="n32-51"><use href="#b" x="32" y="51"/></g><g id="n33-51"><use href="#b" x="33" y="51"/></g><g id="n34-51"><use href="#b" x="34" y="51"/></g><g id="n35-51"><use href="#b" x="35" y="51"/></g><g id="n36-51"><use href="#b" x="36" y="51"/></g><g id="n37-51"><use href="#b" x="37" y="51"/></g><g id="n38-51"><use href="#b" x="38" y="51"/></g><g id="n39-51"><use href="#b" x="39" y="51"/></g><g id="n40-51"><use href="#b" x="40" y="51"/></g>
<g id="n10-52"><use href="#o" x="10" y="52"/></g><g id="n11-52"><use href="#r" x="11" y="52"/></g><g id="n20-52"><use href="#o" x="20" y="52"/></g><g id="n21-52"><use href="#r" x="21" y="52"/></g><g id="n30-52"><use href="#o" x="30" y="52"/></g><g id="n31-52"><use href="#b" x="31" y="52"/></g><g id="n32-52"><use href="#b" x="32" y="52"/></g><g id="n33-52"><use href="#b" x="33" y="52"/></g><g id="n34-52"><use href="#b" x="34" y="52"/></g><g id="n35-52"><use href="#b" x="35" y="52"/></g><g id="n36-52"><use href="#b" x="36" y="52"/></g><g id="n37-52"><use href="#b" x="37" y="52"/></g><g id="n38-52"><use href="#b" x="38" y="52"/></g><g id="n39-52"><use href="#b" x="39" y="52"/></g><g id="n40-52"><use href="#b" x="40" y="52"/></g>
<g id="n10-53"><use href="#o" x="10" y="53"/></g><g id="n11-53"><use href="#r" x="11" y="53"/></g><g id="n20-53"><use href="#o" x="20" y="53"/></g><g id="n21-53"><use href="#r" x="21" y="53"/></g><g id="n30-53"><use href="#g" x="30" y="53"/></g><g id="n31-53"><use href="#g" x="31" y="53"/></g>
<g id="n10-54"><use href="#o" x="10" y="54"/></g><g id="n11-54"><use href="#r" x="11" y="54"/></g><g id="n20-54"><use href="#o" x="20" y="54"/></g><g id="n21-54"><use href="#r" x="21" y="54"/></g><g id="n22-54"><use href="#g" x="22" y="54"/></g><g id="n23-54"><use href="#g" x="23" y="54"/></g><g id="n24-54"><use href="#g" x="24" y="54"/></g><g id="n25-54"><use href="#g" x="25" y="54"/></g><g id="n26-54"><use href="#g" x="26" y="54"/></g><g id="n27-54"><use href="#g" x="27" y="54"/></g><g id="n28-54"><use href="#g" x="28" y="54"/></g><g id="n29-54"><use href="#g" x="29" y="54"/></g><g id="n30-54"><use href="#g" x="30" y="54"/></g><g id="n31-54"><use href="#g" x="31" y="54"/></g>
<g id="n10-55"><use href="#o" x="10" y="55"/></g><g id="n11-55"><use href="#r" x="11" y="55"/></g><g id="n20-55"><use href="#o" x="20" y="55"/></g><g id="n21-55"><use href="#b" x="21" y="55"/></g><g id="n22-55"><use href="#b" x="22" y="55"/></g><g id="n23-55"><use href="#b" x="23" y="55"/></g><g id="n24-55"><use href="#b" x="24" y="55"/></g><g id="n25-55"><use href="#b" x="25" y="55"/></g><g id="n26-55"><use href="#b" x="26" y="55"/></g><g id="n27-55"><use href="#b" x="27" y="55"/></g><g id="n28-55"><use href="#b" x="28" y="55"/></g><g id="n29-55"><use href="#b" x="29" y="55"/></g><g id="n30-55"><use href="#b" x="30" y="55"/></g>
<g id="n10-56"><use href="#o" x="10" y="56"/></g><g id="n11-56"><use href="#r" x="11" y="56"/></g><g id="n20-56"><use href="#o" x="20" y="56"/></g><g id="n21-56"><use href="#b" x="21" y="56"/></g><g id="n22-56"><use href="#b" x="22" y="56"/></g><g id="n23-56"><use href="#b" x="23" y="56"/></g><g id="n24-56"><use href="#b" x="24" y="56"/></g><g id="n25-56"><use href="#b" x="25" y="56"/></g><g id="n26-56"><use href="#b" x="26" y="56"/></g><g id="n27-56"><use href="#b" x="27" y="56"/></g><g id="n28-56"><use href="#b" x="28" y="56"/></g><g id="n29-56"><use href="#b" x="29" y="56"/></g><g id="n30-56"><use href="#b" x="30" y="56"/></g>
<g id="n10-57"><use href="#o" x="10" y="57"/></g><g id="n11-57"><use href="#r" x="11" y="57"/></g><g id="n20-57"><use href="#g" x="20" y="57"/></g><g id="n21-57"><use href="#g" x="21" y="57"/></g>
<g id="n10-58"><use href="#o" x="10" y="58"/></g><g id="n11-58"><use href="#r" x="11" y="58"/></g><g id="n12-58"><use href="#g" x="12" y="58"/></g><g id="n13-58"><use href="#g" x="13" y="58"/></g><g id="n14-58"><use href="#g" x="14" y="58"/></g><g id="n15-58"><use href="#g" x="15" y="58"/></g><g id="n16-58"><use href="#g" x="16" y="58"/></g><g id="n17-58"><use href="#g" x="17" y="58"/></g><g id="n18-58"><use href="#g" x="18" y="58"/></g><g id="n19-58"><use href="#g" x="19" y="58"/></g><g id="n20-58"><use href="#g" x="20" y="58"/></g><g id="n21-58"><use href="#g" x="21" y="58"/></g>
<g id="n10-59"><use href="#o" x="10" y="59"/></g><g id="n11-59"><use href="#b" x="11" y="59"/></g><g id="n12-59"><use href="#b" x="12" y="59"/></g><g id="n13-59"><use href="#b" x="13" y="59"/></g><g id="n14-59"><use href="#b" x="14" y="59"/></g><g id="n15-59"><use href="#b" x="15" y="59"/></g><g id="n16-59"><use href="#b" x="16" y="59"/></g><g id="n17-59"><use href="#b" x="17" y="59"/></g><g id="n18-59"><use href="#b" x="18" y="59"/></g><g id="n19-59"><use href="#b" x="19" y="59"/></g><g id="n20-59"><use href="#b" x="20" y="59"/></g>
<g id="n10-60"><use href="#o" x="10" y="60"/></g><g id="n11-60"><use href="#b" x="11" y="60"/></g><g id="n12-60"><use href="#b" x="12" y="60"/></g><g id="n13-60"><use href="#b" x="13" y="60"/></g><g id="n14-60"><use href="#b" x="14" y="60"/></g><g id="n15-60"><use href="#b" x="15" y="60"/></g><g id="n16-60"><use href="#b" x="16" y="60"/></g><g id="n17-60"><use href="#b" x="17" y="60"/></g><g id="n18-60"><use href="#b" x="18" y="60"/></g><g id="n19-60"><use href="#b" x="19" y="60"/></g><g id="n20-60"><use href="#b" x="20" y="60"/></g>
<g id="n10-61"><use href="#o" x="10" y="61"/></g><g id="n11-61"><use href="#r" x="11" y="61"/></g><g id="n20-61"><use href="#o" x="20" y="61"/></g><g id="n21-61"><use href="#b" x="21" y="61"/></g><g id="n22-61"><use href="#b" x="22" y="61"/></g><g id="n23-61"><use href="#b" x="23" y="61"/></g><g id="n24-61"><use href="#b" x="24" y="61"/></g><g id="n25-61"><use href="#b" x="25" y="61"/></g><g id="n26-61"><use href="#b" x="26" y="61"/></g><g id="n27-61"><use href="#b" x="27" y="61"/></g><g id="n28-61"><use href="#b" x="28" y="61"/></g><g id="n29-61"><use href="#b" x="29" y="61"/></g><g id="n30-61"><use href="#b" x="30" y="61"/></g>
<g id="n10-62"><use href="#o" x="10" y="62"/></g><g id="n11-62"><use href="#r" x="11" y="62"/></g><g id="n20-62"><use href="#o" x="20" y="62"/></g><g id="n21-62"><use href="#b" x="21" y="62"/></g><g id="n22-62"><use href="#b" x="22" y="62"/></g><g id="n23-62"><use href="#b" x="23" y="62"/></g><g id="n24-62"><use href="#b" x="24" y="62"/></g><g id="n25-62"><use href="#b" x="25" y="62"/></g><g id="n26-62"><use href="#b" x="26" y="62"/></g><g id="n27-62"><use href="#b" x="27" y="62"/></g><g id="n28-62"><use href="#b" x="28" y="62"/></g><g id="n29-62"><use href="#b" x="29" y="62"/></g><g id="n30-62"><use href="#b" x="30" y="62"/></g>
<g id="n10-63"><use href="#o" x="10" y="63"/></g><g id="n11-63"><use href="#r" x="11" y="63"/></g><g id="n20-63"><use href="#g" x="20" y="63"/></g><g id="n21-63"><use href="#g" x="21" y="63"/></g>
<g id="n10-64"><use href="#o" x="10" y="64"/></g><g id="n11-64"><use href="#r" x="11" y="64"/></g><g id="n12-64"><use href="#g" x="12" y="64"/></g><g id="n13-64"><use href="#g" x="13" y="64"/></g><g id="n14-64"><use href="#g" x="14" y="64"/></g><g id="n15-64"><use href="#g" x="15" y="64"/></g><g id="n16-64"><use href="#g" x="16" y="64"/></g><g id="n17-64"><use href="#g" x="17" y="64"/></g><g id="n18-64"><use href="#g" x="18" y="64"/></g><g id="n19-64"><use href="#g" x="19" y="64"/></g><g id="n20-64"><use href="#g" x="20" y="64"/></g><g id="n21-64"><use href="#g" x="21" y="64"/></g>
<g id="n10-65"><use href="#o" x="10" y="65"/></g><g id="n11-65"><use href="#b" x="11" y="65"/></g><g id="n12-65"><use href="#b" x="12" y="65"/></g><g id="n13-65"><use href="#b" x="13" y="65"/></g><g id="n14-65"><use href="#b" x="14" y="65"/></g><g id="n15-65"><use href="#b" x="15" y="65"/></g><g id="n16-65"><use href="#b" x="16" y="65"/></g><g id="n17-65"><use href="#b" x="17" y="65"/></g><g id="n18-65"><use href="#b" x="18" y="65"/></g><g id="n19-65"><use href="#b" x="19" y="65"/></g><g id="n20-65"><use href="#b" x="20" y="65"/></g>
<g id="n10-66"><use href="#o" x="10" y="66"/></g><g id="n11-66"><use href="#b" x="11" y="66"/></g><g id="n12-66"><use href="#b" x="12" y="66"/></g><g id="n13-66"><use href="#b" x="13" y="66"/></g><g id="n14-66"><use href="#b" x="14" y="66"/></g><g id="n15-66"><use href="#b" x="15" y="66"/></g><g id="n16-66"><use href="#b" x="16" y="66"/></g><g id="n17-66"><use href="#b" x="17" y="66"/></g><g id="n18-66"><use href="#b" x="18" y="66"/></g><g id="n19-66"><use href="#b" x="19" y="66"/></g><g id="n20-66"><use href="#b" x="20" y="66"/></g>
<g id="n10-67"><use href="#g" x="10" y="67"/></g><g id="n11-67"><use href="#g" x="11" y="67"/></g>
<g id="n1-68"><use href="#w" x="1" y="68"/></g><g id="n2-68"><use href="#g" x="2" y="68"/></g><g id="n3-68"><use href="#g" x="3" y="68"/></g><g id="n4-68"><use href="#g" x="4" y="68"/></g><g id="n5-68"><use href="#g" x="5" y="68"/></g><g id="n6-68"><use href="#g" x="6" y="68"/></g><g id="n7-68"><use href="#g" x="7" y="68"/></g><g id="n8-68"><use href="#g" x="8" y="68"/></g><g id="n9-68"><use href="#g" x="9" y="68"/></g><g id="n10-68"><use href="#g" x="10" y="68"/></g><g id="n11-68"><use href="#g" x="11" y="68"/></g>
</g>
</g>
</svg>
